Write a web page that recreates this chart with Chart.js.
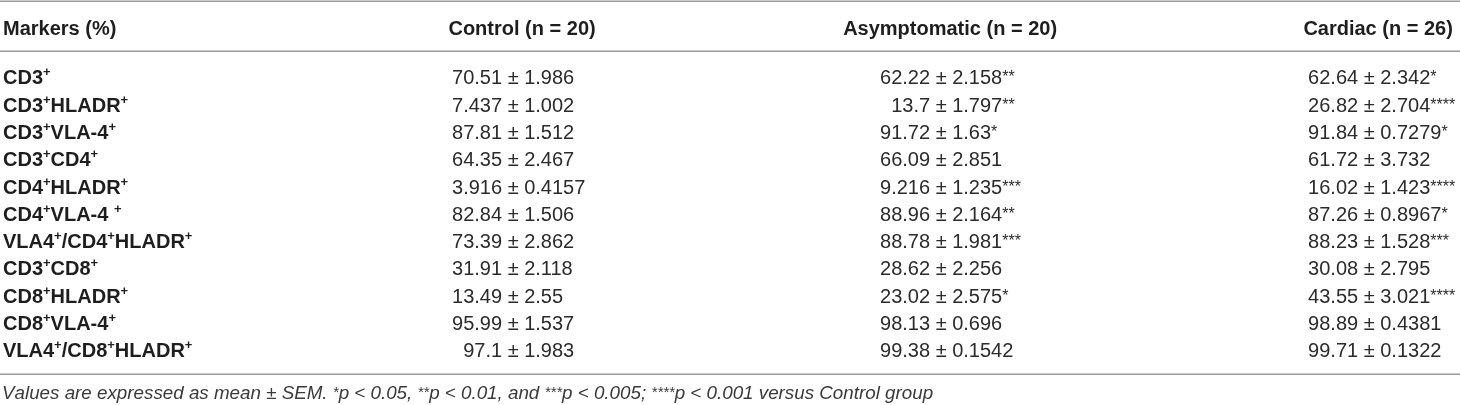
<!DOCTYPE html>
<html>
<head>
<meta charset="utf-8">
<script src="https://cdn.jsdelivr.net/npm/chart.js@4"></script>
<style>
  html, body { margin: 0; padding: 0; background: #fff; }
  #wrap { width: 1460px; height: 405px; position: relative; }
</style>
</head>
<body>
<div id="wrap"><canvas id="myChart"></canvas></div>
<script>
// table content
var firstHeader = 'Markers (%)';
var groups = ['Control (n = 20)', 'Asymptomatic (n = 20)', 'Cardiac (n = 26)'];
var markers = ['CD3+', 'CD3+HLADR+', 'CD3+VLA-4+', 'CD3+CD4+', 'CD4+HLADR+', 'CD4+VLA-4 +',
               'VLA4+/CD4+HLADR+', 'CD3+CD8+', 'CD8+HLADR+', 'CD8+VLA-4+', 'VLA4+/CD8+HLADR+'];

var controlMean = [70.51, 7.437, 87.81, 64.35, 3.916, 82.84, 73.39, 31.91, 13.49, 95.99, 97.1];
var controlSem  = [1.986, 1.002, 1.512, 2.467, 0.4157, 1.506, 2.862, 2.118, 2.55, 1.537, 1.983];
var controlSig  = ['', '', '', '', '', '', '', '', '', '', ''];

var asymMean = [62.22, 13.7, 91.72, 66.09, 9.216, 88.96, 88.78, 28.62, 23.02, 98.13, 99.38];
var asymSem  = [2.158, 1.797, 1.63, 2.851, 1.235, 2.164, 1.981, 2.256, 2.575, 0.696, 0.1542];
var asymSig  = ['**', '**', '*', '', '***', '**', '***', '', '*', '', ''];

var cardiacMean = [62.64, 26.82, 91.84, 61.72, 16.02, 87.26, 88.23, 30.08, 43.55, 98.89, 99.71];
var cardiacSem  = [2.342, 2.704, 0.7279, 3.732, 1.423, 0.8967, 1.528, 2.795, 3.021, 0.4381, 0.1322];
var cardiacSig  = ['*', '****', '*', '', '****', '*', '***', '', '****', '', ''];

var footnote = 'Values are expressed as mean \u00b1 SEM. *p < 0.05, **p < 0.01, and ***p < 0.005; ****p < 0.001 versus Control group';

var means = [controlMean, asymMean, cardiacMean];
var sems = [controlSem, asymSem, cardiacSem];
var sigs = [controlSig, asymSig, cardiacSig];

var FONT = '"Liberation Sans", Arial, Helvetica, sans-serif';

// draw a string where every `supChar` is a small raised glyph
function drawRich(ctx, text, x, y, font, supFont, supChar, rise) {
    for (var i = 0; i < text.length; i++) {
        var ch = text[i];
        if (ch === supChar) {
            ctx.font = supFont;
            ctx.fillText(ch, x, y - rise);
        } else {
            ctx.font = font;
            ctx.fillText(ch, x, y);
        }
        x += ctx.measureText(ch).width;
    }
    return x;
}

var tablePlugin = {
    id: 'tableText',
    afterDraw: function (chart) {
        var ctx = chart.ctx;
        var xs = chart.scales.x, ys = chart.scales.y;
        var left = chart.chartArea.left, right = chart.chartArea.right;
        ctx.save();
        ctx.textBaseline = 'alphabetic';

        // rules
        ctx.strokeStyle = '#9a9a9a';
        ctx.lineWidth = 1.5;
        [-2.79, -0.96, 10.865].forEach(function (v) {
            var py = Math.round(ys.getPixelForValue(v)) + 0.25;
            ctx.beginPath();
            ctx.moveTo(left, py);
            ctx.lineTo(right, py);
            ctx.stroke();
        });

        // header
        var hy = ys.getPixelForValue(-1.805) + 7;
        ctx.fillStyle = '#1e1e1e';
        ctx.font = 'bold 20px ' + FONT;
        ctx.textAlign = 'left';
        ctx.fillText(firstHeader, left + 3, hy);
        ctx.textAlign = 'center';
        groups.forEach(function (g, k) {
            ctx.fillText(g, xs.getPixelForValue(k + 1) + 20, hy);
        });

        // marker names
        ctx.textAlign = 'left';
        var rowMeta = chart.getDatasetMeta(0);
        markers.forEach(function (m, i) {
            var py = rowMeta.data[i].y + 7;
            drawRich(ctx, m, left + 3, py, 'bold 20px ' + FONT, 'bold 13px ' + FONT, '+', 8);
        });

        // value cells
        ctx.fillStyle = '#2b2b2b';
        means.forEach(function (col, k) {
            var meta = chart.getDatasetMeta(k);
            col.forEach(function (m, i) {
                var pt = meta.data[i];
                var py = pt.y + 7;
                ctx.font = '20px ' + FONT;
                var mt = String(m);
                var x0 = pt.x - ctx.measureText(mt).width;
                ctx.fillText(mt + ' \u00b1 ' + sems[k][i], x0, py);
                var xe = x0 + ctx.measureText(mt + ' \u00b1 ' + sems[k][i]).width;
                if (sigs[k][i]) {
                    ctx.font = '16px ' + FONT;
                    ctx.fillText(sigs[k][i], xe, py - 2);
                }
            });
        });

        // footnote
        ctx.fillStyle = '#3a3a3a';
        var fy = ys.getPixelForValue(11.56) + 6;
        drawRich(ctx, footnote, left + 2, fy, 'italic 18.8px ' + FONT, 'italic 15px ' + FONT, '*', 2);

        ctx.restore();
    }
};

var datasets = means.map(function (col, k) {
    return {
        label: groups[k],
        data: col.map(function (v, i) { return { x: k + 1, y: i }; }),
        pointRadius: 0,
        pointHoverRadius: 0,
        showLine: false
    };
});

var ctx = document.getElementById('myChart').getContext('2d');
var chart = new Chart(ctx, {
    type: 'scatter',
    data: { datasets: datasets },
    options: {
        responsive: true,
        maintainAspectRatio: false,
        animation: false,
        layout: { padding: 0 },
        plugins: { legend: { display: false }, tooltip: { enabled: false } },
        events: [],
        scales: {
            x: { type: 'linear', min: -0.173, max: 3.238, display: false },
            y: { type: 'linear', min: -2.83, max: 12.0, reverse: true, display: false }
        }
    },
    plugins: [tablePlugin]
});
</script>
</body>
</html>
